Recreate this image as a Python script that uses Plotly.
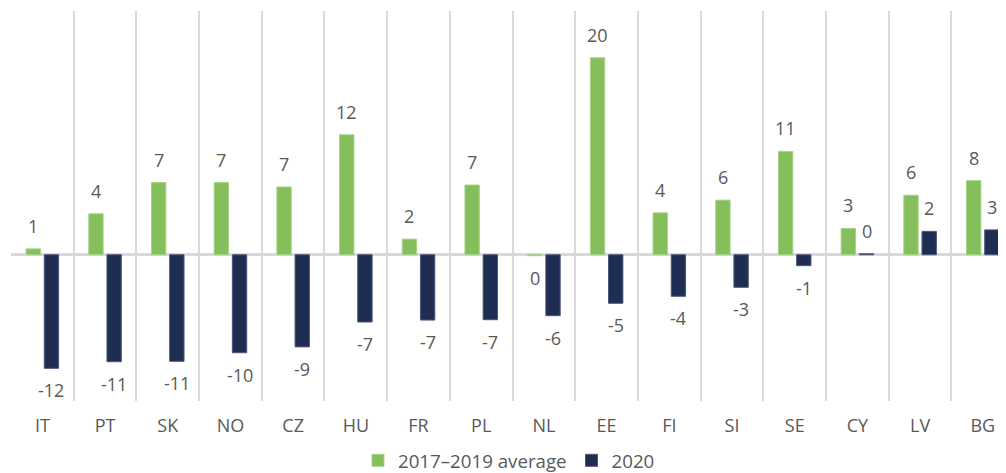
import plotly.graph_objects as go

categories = ["IT", "PT", "SK", "NO", "CZ", "HU", "FR", "PL", "NL", "EE", "FI", "SI", "SE", "CY", "LV", "BG"]
avg_2017_2019 = [0.6, 4.2, 7.4, 7.4, 6.95, 12.3, 1.6, 7.15, -0.1, 20.2, 4.3, 5.6, 10.6, 2.7, 6.1, 7.6]
val_2020 = [-11.65, -10.97, -10.93, -10.05, -9.45, -6.9, -6.7, -6.66, -6.25, -4.98, -4.26, -3.34, -1.12, 0.1, 2.4, 2.55]

series_names = ["2017\u20132019 average", "2020"]
colors = ["#84BF5C", "#1F2D52"]
edge_colors = ["#A6D28A", "#4A5878"]
text_color = "#595959"
font_family = "Open Sans, Noto Sans, sans-serif"

x = list(range(len(categories)))
fig = go.Figure()
for name, vals, c, ec in zip(series_names, [avg_2017_2019, val_2020], colors, edge_colors):
    fig.add_trace(go.Bar(
        x=x, y=vals, name=name,
        marker=dict(color=c, line=dict(color=ec, width=1)),
        hoverinfo="skip",
    ))

bargap = 0.42
slot = (1 - bargap) / 2
offsets = [-slot / 2, slot / 2]
annotations = []
for vals, off in zip([avg_2017_2019, val_2020], offsets):
    for i, v in enumerate(vals):
        lab = str(int(round(v)))
        pos = v >= 0
        annotations.append(dict(
            x=i + off, y=v, xref="x", yref="y", text=lab, showarrow=False,
            yanchor="bottom" if pos else "top",
            yshift=9 if pos else -8,
            font=dict(size=18, color=text_color, family=font_family),
        ))

fig.update_layout(
    width=998, height=465,
    margin=dict(l=3, r=0, t=3, b=72, autoexpand=False),
    paper_bgcolor="white", plot_bgcolor="white",
    barmode="group", bargap=bargap, bargroupgap=0.21,
    font=dict(family=font_family, size=18, color=text_color),
    showlegend=True,
    legend=dict(orientation="h", x=0.5005, xanchor="center", y=-0.153, yanchor="middle",
                font=dict(size=18.7, color=text_color), itemwidth=30, tracegroupgap=0,
                itemclick=False),
    annotations=annotations,
)
fig.update_xaxes(
    range=[-0.5, 15.37],
    tickmode="array", tickvals=x, ticktext=categories,
    showgrid=False, zeroline=False, showline=False, ticks="",
    ticklabelstandoff=12,
    tickfont=dict(size=18, color=text_color, family=font_family),
    minor=dict(tickmode="linear", tick0=-0.5, dtick=1, showgrid=True,
               gridcolor="#D9D9D9", gridwidth=1.5, ticks=""),
)
fig.update_yaxes(
    range=[-15, 25], showgrid=False, showticklabels=False,
    zeroline=True, zerolinecolor="#D9D9D9", zerolinewidth=2.5,
)

fig.write_html("out.html")
